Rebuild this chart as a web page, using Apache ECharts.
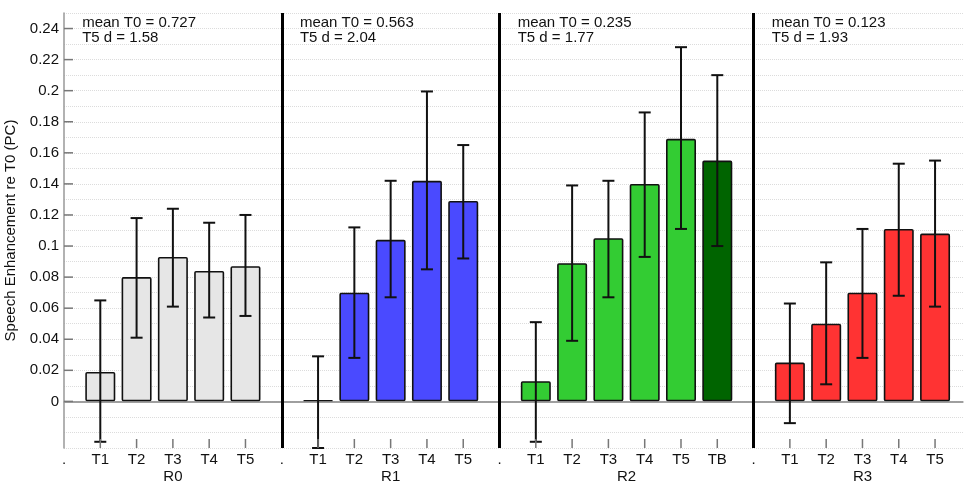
<!DOCTYPE html>
<html>
<head>
<meta charset="utf-8">
<script src="https://cdn.jsdelivr.net/npm/echarts@6/dist/echarts.min.js"></script>
<style>html,body{margin:0;padding:0;background:#fff}#chart{width:965px;height:483px}</style>
</head>
<body>
<div id="chart"></div>
<script>
// ---- data ----
const groupNames = ['R0', 'R1', 'R2', 'R3'];
const conditions = [
  ['T1', 'T2', 'T3', 'T4', 'T5'],
  ['T1', 'T2', 'T3', 'T4', 'T5'],
  ['T1', 'T2', 'T3', 'T4', 'T5', 'TB'],
  ['T1', 'T2', 'T3', 'T4', 'T5']
];
const means = [
  [0.019, 0.080, 0.093, 0.084, 0.087],
  [0.000, 0.070, 0.104, 0.142, 0.129],
  [0.013, 0.089, 0.105, 0.140, 0.169, 0.155],
  [0.025, 0.050, 0.070, 0.111, 0.108]
];
const upper = [
  [0.065, 0.118, 0.124, 0.115, 0.120],
  [0.029, 0.112, 0.142, 0.1995, 0.165],
  [0.051, 0.139, 0.142, 0.186, 0.228, 0.210],
  [0.063, 0.0895, 0.111, 0.153, 0.155]
];
const lower = [
  [-0.026, 0.041, 0.061, 0.054, 0.055],
  [-0.030, 0.028, 0.067, 0.085, 0.092],
  [-0.026, 0.039, 0.067, 0.093, 0.111, 0.100],
  [-0.014, 0.011, 0.028, 0.068, 0.061]
];
const meanT0 = ['0.727', '0.563', '0.235', '0.123'];
const t5d = ['1.58', '2.04', '1.77', '1.93'];
const yTicks = [0, 0.02, 0.04, 0.06, 0.08, 0.1, 0.12, 0.14, 0.16, 0.18, 0.2, 0.22, 0.24];
const separatorLabel = '.';

// ---- styles ----
const groupColors = ['#e6e6e6', '#4a4aff', '#33cc33', '#ff3333'];
const tbColor = '#006400';
const FONT = 'Liberation Sans, Arial, sans-serif';

// ---- build ----
const cats = [];
const barData = [];
const errData = [];
const sepIdx = [];
const groupCenter = [];
const condIdx = [];
groupNames.forEach((g, gi) => {
  sepIdx.push(cats.length);
  cats.push(separatorLabel);
  const start = cats.length;
  conditions[gi].forEach((c, ci) => {
    const x = cats.length;
    cats.push(c);
    condIdx.push(x);
    barData.push({ value: [x, means[gi][ci]], itemStyle: { color: c === 'TB' ? tbColor : groupColors[gi] } });
    errData.push([x, lower[gi][ci], upper[gi][ci]]);
  });
  groupCenter.push((start + cats.length - 1) / 2);
});
const xMax = cats.length - 1 + 0.77;
const TICK_COLOR = '#777';

const chart = echarts.init(document.getElementById('chart'), null, { renderer: 'canvas' });
chart.setOption({
  animation: false,
  backgroundColor: '#fff',
  grid: { left: 64, right: 2, top: 13, bottom: 35, containLabel: false, outerBoundsMode: 'none' },
  xAxis: [
    {
      type: 'value', min: 0, max: xMax, interval: 1,
      axisLine: { show: true, lineStyle: { color: '#999', width: 1.5 } },
      axisTick: { show: false },
      axisLabel: {
        margin: 4, color: '#111', fontSize: 15, fontFamily: FONT,
        showMaxLabel: false,
        formatter: v => (Number.isInteger(v) && cats[v] !== undefined) ? cats[v] : ''
      },
      splitLine: { show: false }
    },
    {
      type: 'value', min: 0, max: xMax, interval: 0.5, position: 'bottom', offset: 17,
      axisLine: { show: false }, axisTick: { show: false }, splitLine: { show: false },
      axisLabel: {
        margin: 4, color: '#111', fontSize: 15, fontFamily: FONT,
        formatter: v => {
          const i = groupCenter.findIndex(c => Math.abs(c - v) < 1e-6);
          return i >= 0 ? groupNames[i] : '';
        }
      }
    }
  ],
  yAxis: {
    type: 'value', min: -0.03, max: 0.25, interval: 0.01,
    name: 'Speech Enhancement re T0 (PC)', nameLocation: 'middle', nameGap: 46,
    nameMoveOverlap: false,
    nameTextStyle: { color: '#111', fontSize: 15, fontFamily: FONT },
    axisLine: { show: true, lineStyle: { color: '#999', width: 1.5 } },
    axisTick: { show: false },
    axisLabel: {
      margin: 5, color: '#111', fontSize: 15, fontFamily: FONT,
      formatter: v => {
        const r = Math.round(v * 100);
        if (r < 0 || r % 2 !== 0 || r > 24) return '';
        return String(+(r / 100).toFixed(2));
      }
    },
    splitLine: { show: true, lineStyle: { color: '#dcdcdc', type: 'dotted', width: 1 } }
  },
  series: [
    {
      type: 'bar', xAxisIndex: 0, barWidth: 30, barMinHeight: 1, data: barData, z: 3,
      itemStyle: { borderColor: '#111', borderWidth: 1.6, borderRadius: 1 },
      markLine: {
        silent: true, symbol: 'none', label: { show: false }, animation: false,
        data: [{ yAxis: 0, lineStyle: { color: '#999', width: 1.5, type: 'solid' } }]
          .concat(sepIdx.slice(1).map(s => ({ xAxis: s, lineStyle: { color: '#000', width: 3, type: 'solid' } })))
      }
    },
    {
      type: 'custom', xAxisIndex: 0, data: errData, z: 5,
      encode: { x: 0, y: [1, 2] },
      renderItem: (params, api) => {
        const x = api.value(0);
        const lo = api.coord([x, api.value(1)]);
        const hi = api.coord([x, api.value(2)]);
        const h = 6;
        const st = { stroke: '#111', lineWidth: 2 };
        return {
          type: 'group', children: [
            { type: 'line', shape: { x1: lo[0], y1: lo[1], x2: hi[0], y2: hi[1] }, style: st },
            { type: 'line', shape: { x1: hi[0] - h, y1: hi[1], x2: hi[0] + h, y2: hi[1] }, style: st },
            { type: 'line', shape: { x1: lo[0] - h, y1: lo[1], x2: lo[0] + h, y2: lo[1] }, style: st }
          ]
        };
      }
    },
    {
      // y-axis tick marks (inside), at labelled values only
      type: 'custom', xAxisIndex: 0, data: yTicks.map(v => [0, v]), z: 10, silent: true,
      encode: { x: 0, y: 1 }, clip: false,
      renderItem: (params, api) => {
        const p = api.coord([api.value(0), api.value(1)]);
        return { type: 'line', z2: 100, shape: { x1: p[0], y1: p[1], x2: p[0] + 9, y2: p[1] }, style: { stroke: TICK_COLOR, lineWidth: 1.5 } };
      }
    },
    {
      // x-axis tick marks (inside), at condition positions
      type: 'custom', xAxisIndex: 0, data: condIdx.map(x => [x, -0.03]), z: 10, silent: true,
      encode: { x: 0, y: 1 }, clip: false,
      renderItem: (params, api) => {
        const p = api.coord([api.value(0), api.value(1)]);
        return { type: 'line', z2: 100, shape: { x1: p[0], y1: p[1], x2: p[0], y2: p[1] - 9 }, style: { stroke: TICK_COLOR, lineWidth: 1.5 } };
      }
    },
    {
      type: 'custom', xAxisIndex: 0, data: sepIdx.map((s, i) => [s + 0.5, 0.25, i]), z: 6, silent: true,
      encode: { x: 0, y: 1 }, clip: false,
      renderItem: (params, api) => {
        const p = api.coord([api.value(0), api.value(1)]);
        const i = api.value(2);
        return {
          type: 'text', x: p[0], y: p[1] + 2,
          style: {
            text: 'mean T0 = ' + meanT0[i] + '\nT5 d = ' + t5d[i],
            fill: '#111', font: '15px ' + FONT, lineHeight: 15,
            verticalAlign: 'top', align: 'left'
          }
        };
      }
    }
  ]
});
</script>
</body>
</html>
